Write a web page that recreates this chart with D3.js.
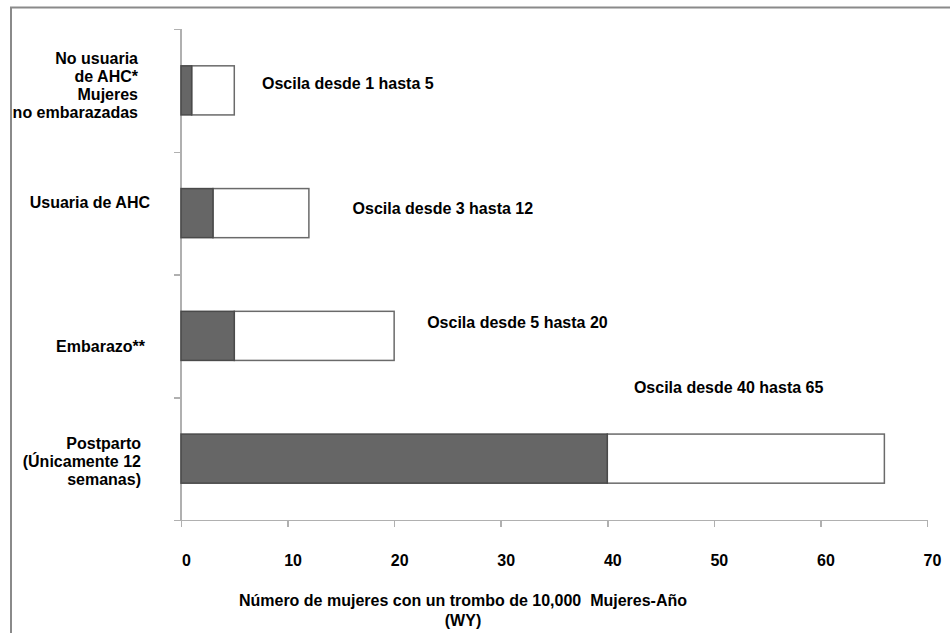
<!DOCTYPE html>
<html lang="es">
<head>
    <meta charset="UTF-8">
    <title>Trombos por 10,000 mujeres-año</title>
    <style>
        body { margin: 0; background: #fff; }
        #chart { font-family: "Liberation Sans", Arial, sans-serif; }
        .lbl { font-size: 16px; font-weight: bold; fill: #000; }
        .axis path, .axis line { stroke: #b0b0b0; stroke-width: 1.5px; shape-rendering: crispEdges; }
        .axis text { font-size: 16px; font-weight: bold; fill: #000; font-family: "Liberation Sans", Arial, sans-serif; }
    </style>
    <script src="https://d3js.org/d3.v7.min.js"></script>
</head>
<body>
    <div id="chart"></div>
    <script>
        // data
        const categories = ['noUsuaria', 'usuaria', 'embarazo', 'postparto'];
        const categoryLines = [
            ['No usuaria', 'de AHC*', 'Mujeres', 'no embarazadas'],
            ['Usuaria de AHC'],
            ['Embarazo**'],
            ['Postparto', '(Únicamente 12', 'semanas)']
        ];
        const lowValues = [1, 3, 5, 40];
        const highValues = [5, 12, 20, 66];
        const notes = ['Oscila desde 1 hasta 5', 'Oscila desde 3 hasta 12', 'Oscila desde 5 hasta 20', 'Oscila desde 40 hasta 65'];
        const xTicks = [0, 10, 20, 30, 40, 50, 60, 70];
        const xTitle = ['Número de mujeres con un trombo de 10,000  Mujeres-Año', '(WY)'];

        const W = 950, H = 633;
        const plotLeft = 181, plotRight = 927, plotTop = 29, plotBottom = 520;

        const svg = d3.select('#chart').append('svg')
            .attr('width', W).attr('height', H);

        // frame (top + left edges)
        svg.append('path')
            .attr('d', `M11,${H} L11,7.5 L${W},7.5`)
            .attr('fill', 'none')
            .attr('stroke', '#8a8a8a')
            .attr('stroke-width', 2);

        const x = d3.scaleLinear().domain([0, 70]).range([plotLeft, plotRight]);
        const y = d3.scaleBand().domain(categories).range([plotTop, plotBottom])
            .paddingInner(0.6).paddingOuter(0.3);
        const ySep = d3.scaleLinear().domain([0, categories.length]).range([plotTop, plotBottom]);

        // y axis: separator ticks only
        svg.append('g')
            .attr('class', 'axis')
            .attr('transform', `translate(${plotLeft},0)`)
            .call(d3.axisLeft(ySep).tickValues(d3.range(categories.length + 1)).tickSize(7).tickFormat(''))
            .call(g => g.select('.domain').attr('d', `M0,${plotTop}V${plotBottom}`));

        // x axis
        svg.append('g')
            .attr('class', 'axis')
            .attr('transform', `translate(0,${plotBottom})`)
            .call(d3.axisBottom(x).tickValues(xTicks).tickSize(7).tickPadding(28).tickSizeOuter(7))
            .call(g => g.selectAll('.tick text').attr('dx', 5));

        // bars: dark low segment, white segment up to the high end
        const rows = categories.map((c, i) => ({ c, lo: lowValues[i], hi: highValues[i] }));

        svg.selectAll('.hi').data(rows).enter().append('rect')
            .attr('class', 'hi')
            .attr('x', d => x(d.lo))
            .attr('y', d => y(d.c))
            .attr('width', d => x(d.hi) - x(d.lo))
            .attr('height', y.bandwidth())
            .attr('fill', '#fff')
            .attr('stroke', '#6a6a6a')
            .attr('stroke-width', 1.5);

        svg.selectAll('.lo').data(rows).enter().append('rect')
            .attr('class', 'lo')
            .attr('x', x(0))
            .attr('y', d => y(d.c))
            .attr('width', d => x(d.lo) - x(0))
            .attr('height', y.bandwidth())
            .attr('fill', '#666')
            .attr('stroke', '#4a4a4a')
            .attr('stroke-width', 1.5);

        // category labels (right-aligned, hand-nudged like the original)
        const labelRight = [138, 150, 145, 141];
        const labelShift = [-5, -11, 11, 3];
        const lineH = 18;
        categories.forEach((c, i) => {
            const lines = categoryLines[i];
            const cy = y(c) + y.bandwidth() / 2 + labelShift[i];
            const t = svg.append('text').attr('class', 'lbl')
                .attr('text-anchor', 'end');
            lines.forEach((s, k) => {
                t.append('tspan')
                    .attr('x', labelRight[i])
                    .attr('y', cy + (k - (lines.length - 1) / 2) * lineH)
                    .attr('dy', '0.35em')
                    .text(s);
            });
        });

        // range notes (positions in data units / offsets from band centre)
        const noteAt = [7.6, 16.1, 23.1, 42.5];
        const noteShift = [-7, -5, -13, -71];
        categories.forEach((c, i) => {
            svg.append('text').attr('class', 'lbl')
                .attr('x', x(noteAt[i]))
                .attr('y', y(c) + y.bandwidth() / 2 + noteShift[i])
                .attr('dy', '0.35em')
                .text(notes[i]);
        });

        // x title
        const tt = svg.append('text').attr('class', 'lbl')
            .attr('text-anchor', 'middle')
            .style('white-space', 'pre');
        xTitle.forEach((s, k) => {
            tt.append('tspan')
                .attr('x', 463)
                .attr('y', 600 + k * 20)
                .attr('dy', '0.35em')
                .text(s);
        });
    </script>
</body>
</html>
